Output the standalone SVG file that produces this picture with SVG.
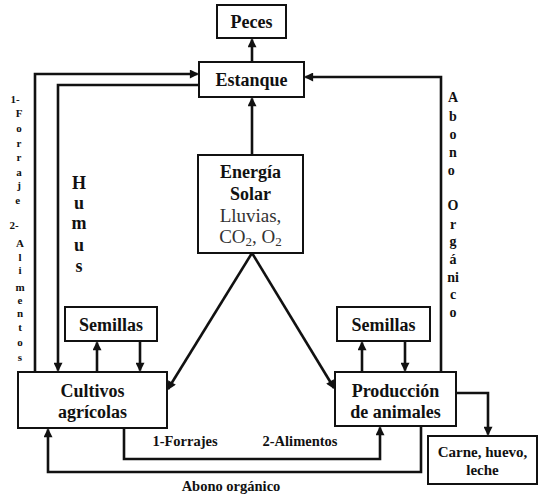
<svg xmlns="http://www.w3.org/2000/svg" width="542" height="497" viewBox="0 0 542 497">
<style>
.box{fill:#fff;stroke:#111;stroke-width:2}
.t{font-family:"Liberation Serif","Times New Roman",serif;font-weight:bold;fill:#111;text-anchor:middle}
.r{font-family:"Liberation Serif","Times New Roman",serif;fill:#333;text-anchor:middle}
.c{fill:none;stroke:#111;stroke-width:2.6;marker-end:url(#ah)}
.p{fill:none;stroke:#111;stroke-width:2.6}
</style>
<defs>
<marker id="ah" viewBox="0 0 10 10" refX="8.5" refY="5" markerWidth="10" markerHeight="9" markerUnits="userSpaceOnUse" orient="auto">
<path d="M0,0 L10,5 L0,10 z" fill="#111"/>
</marker>
</defs>
<rect width="542" height="497" fill="#fff"/>
<g id="connectors">
<path class="c" d="M252,61 V39.5"/>
<path class="c" d="M252,155 V98.5"/>
<path class="c" d="M35,372 V74 H197.5"/>
<path class="c" d="M199,85 H58 V370.5"/>
<path class="c" d="M441,372 V77 H305.5"/>
<path class="c" d="M97,372 V342.5"/>
<path class="c" d="M140,341 V370.5"/>
<path class="c" d="M362,372 V342.5"/>
<path class="c" d="M405,341 V370.5"/>
<path class="c" d="M252,253 L168,389"/>
<path class="c" d="M252,253 L334,388"/>
<path class="c" d="M124,428 V459 H380 V427.5"/>
<path class="c" d="M421,426 V472 H48 V429.5"/>
<path class="c" d="M456,393 H488 V434.5"/>
</g>
<g id="peces"><rect class="box" x="217" y="5" width="69" height="33"/><text class="t" x="251.5" y="28" font-size="18">Peces</text></g>
<g id="estanque"><rect class="box" x="199" y="62" width="105" height="35"/><text class="t" x="251.5" y="86" font-size="18">Estanque</text></g>
<g id="energia"><rect class="box" x="198" y="155" width="105" height="98"/>
<text class="t" x="250.5" y="178" font-size="18">Energía</text>
<text class="t" x="250.5" y="200" font-size="18">Solar</text>
<text class="r" x="250.5" y="222" font-size="19">Lluvias,</text>
<text class="r" x="250.5" y="243" font-size="19">CO<tspan font-size="13" dy="3">2</tspan><tspan dy="-3">, O</tspan><tspan font-size="13" dy="3">2</tspan></text>
</g>
<g id="semillas-izq"><rect class="box" x="65" y="307" width="92" height="34"/><text class="t" x="111" y="331" font-size="18">Semillas</text></g>
<g id="semillas-der"><rect class="box" x="337" y="307" width="93" height="34"/><text class="t" x="383.5" y="331" font-size="18">Semillas</text></g>
<g id="cultivos"><rect class="box" x="18" y="372" width="149" height="56"/>
<text class="t" x="92.5" y="397" font-size="18">Cultivos</text>
<text class="t" x="92.5" y="418" font-size="18">agrícolas</text></g>
<g id="produccion"><rect class="box" x="335" y="372" width="121" height="54"/>
<text class="t" x="395.5" y="397" font-size="18">Producción</text>
<text class="t" x="395.5" y="418" font-size="18">de animales</text></g>
<g id="carne"><rect class="box" x="428" y="436" width="109" height="48"/>
<text class="t" x="482.5" y="457" font-size="15">Carne, huevo,</text>
<text class="t" x="482.5" y="475" font-size="15">leche</text></g>
<g id="labels">
<text class="t" x="185" y="446" font-size="14.5">1-Forrajes</text>
<text class="t" x="300" y="446" font-size="14.5">2-Alimentos</text>
<text class="t" x="231" y="491" font-size="14.5">Abono orgánico</text>
<text class="t" font-size="11">
<tspan x="15" y="103">1-</tspan><tspan x="19" y="117">F</tspan><tspan x="19" y="132">o</tspan><tspan x="19" y="147">r</tspan><tspan x="19" y="161">r</tspan><tspan x="19" y="176">a</tspan><tspan x="19" y="189">j</tspan><tspan x="19" y="204">e</tspan>
<tspan x="14" y="229">2-</tspan><tspan x="20" y="247">A</tspan><tspan x="20" y="261">l</tspan><tspan x="20" y="274">i</tspan><tspan x="20" y="291">m</tspan><tspan x="20" y="304">e</tspan><tspan x="20" y="317">n</tspan><tspan x="20" y="331">t</tspan><tspan x="20" y="346">o</tspan><tspan x="20" y="361">s</tspan>
</text>
<text class="t" font-size="18">
<tspan x="79" y="189">H</tspan><tspan x="79" y="209">u</tspan><tspan x="79" y="229">m</tspan><tspan x="79" y="251">u</tspan><tspan x="79" y="272">s</tspan>
</text>
<text class="t" font-size="14">
<tspan x="453" y="102">A</tspan><tspan x="453" y="121">b</tspan><tspan x="453" y="139">o</tspan><tspan x="453" y="157">n</tspan><tspan x="453" y="175">o</tspan>
<tspan x="453" y="210">O</tspan><tspan x="453" y="229">r</tspan><tspan x="453" y="246">g</tspan><tspan x="453" y="264">á</tspan><tspan x="453" y="282">ni</tspan><tspan x="453" y="299">c</tspan><tspan x="453" y="317">o</tspan>
</text>
</g>
</svg>
